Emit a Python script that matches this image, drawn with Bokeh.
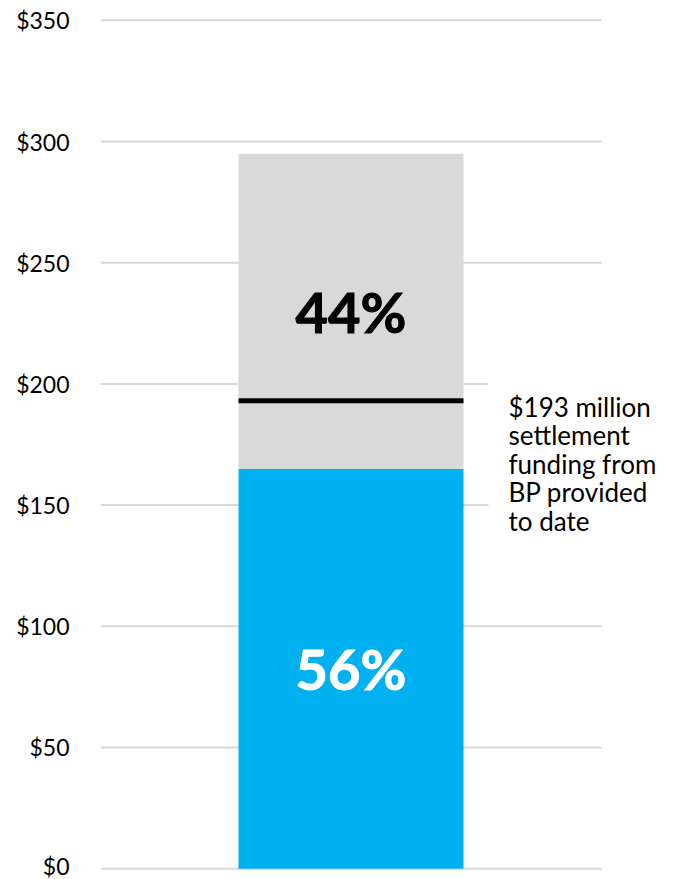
from bokeh.plotting import figure
from bokeh.models import Range1d, Label, ColumnDataSource, FixedTicker
from bokeh.embed import file_html
from bokeh.resources import INLINE
from bokeh.core.properties import value

# Data
categories = ["Total"]
provided = [165]          # blue segment, $ millions
remaining = [130]         # gray segment, $ millions
marker_value = 193        # settlement funding line
ticks = [0, 50, 100, 150, 200, 250, 300, 350]
tick_labels = ["$0", "$50", "$100", "$150", "$200", "$250", "$300", "$350"]
annotation = "$193 million\nsettlement\nfunding from\nBP provided\nto date"

FONT = "Lato"
BLUE = "#00B0F0"
GRAY = "#D9D9D9"

total = [a + b for a, b in zip(provided, remaining)]
pct_provided = [f"{round(a / t * 100)}%" for a, t in zip(provided, total)]
pct_remaining = [f"{round(b / t * 100)}%" for b, t in zip(remaining, total)]

x_right = -0.5 + 578 / 501
p = figure(width=678, height=879, output_backend="svg", toolbar_location=None,
           x_range=Range1d(-0.5, x_right), y_range=Range1d(-2, 352),
           min_border_left=100, min_border_right=0, min_border_top=15, min_border_bottom=6)
p.outline_line_color = None
p.xaxis.visible = False
p.xgrid.visible = False
p.ygrid.visible = False

xs = [0]
bw = 0.449

# grid lines across the plotting area
gsrc = ColumnDataSource(dict(y=ticks, x0=[-0.5] * len(ticks), x1=[0.5] * len(ticks)))
p.segment(x0="x0", x1="x1", y0="y", y1="y", source=gsrc, line_color=GRAY, line_width=2)

src = ColumnDataSource(dict(x=xs, provided=provided, total=total,
                            mid1=[a / 2 for a in provided],
                            mid2=[a + b / 2 for a, b in zip(provided, remaining)],
                            l1=pct_provided, l2=pct_remaining,
                            x0=[x - bw / 2 for x in xs], x1=[x + bw / 2 for x in xs],
                            m=[marker_value]))

p.vbar(x="x", width=bw, bottom=0, top="provided", source=src, fill_color=BLUE, line_color=None)
p.vbar(x="x", width=bw, bottom="provided", top="total", source=src, fill_color=GRAY, line_color=None)
p.segment(x0="x0", x1="x1", y0="m", y1="m", source=src, line_color="black", line_width=5)

p.text(x="x", y="mid2", text="l2", source=src, text_align="center", text_baseline="middle",
       text_font=value(FONT), text_font_style="bold", text_font_size="56px", text_color="black",
       text_outline_color="black")
p.text(x="x", y="mid1", text="l1", source=src, text_align="center", text_baseline="middle",
       text_font=value(FONT), text_font_style="bold", text_font_size="56px", text_color="white",
       text_outline_color="white")

# axis
p.yaxis.ticker = FixedTicker(ticks=ticks)
p.yaxis.major_label_overrides = {t: l for t, l in zip(ticks, tick_labels)}
p.yaxis.axis_line_color = None
p.yaxis.major_tick_line_color = None
p.yaxis.minor_tick_line_color = None
p.yaxis.major_label_standoff = 25
p.yaxis.major_label_text_font = FONT
p.yaxis.major_label_text_font_size = "23px"
p.yaxis.major_label_text_color = "black"

lab = Label(x=0.5, y=marker_value, x_offset=-113, y_offset=18, text=annotation,
            text_font=FONT, text_font_size="26px", text_color="black",
            text_align="left", text_baseline="top", text_line_height=0.89,
            background_fill_color="white", padding=dict(left=20, right=10, top=8, bottom=10))
p.add_layout(lab)

open("out.html", "w").write(file_html(p, INLINE))
